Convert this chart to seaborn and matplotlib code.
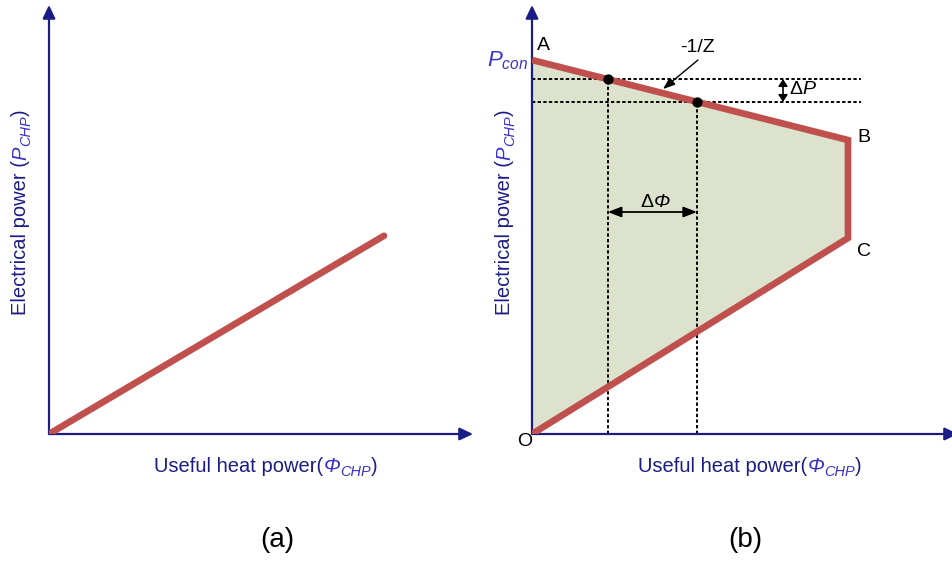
import numpy as np
import pandas as pd
import matplotlib
matplotlib.use("Agg")
import matplotlib.pyplot as plt
import matplotlib.transforms as mtransforms
import seaborn as sns

# ---------------- data ----------------
# panel (a): CHP unit with fixed heat/power ratio
a_heat = [0, 106]
a_power = [0, 53]
# panel (b): feasible operating region O-A-B-C
b_points = ["O", "A", "B", "C"]
b_heat = [0, 0, 100, 100]
b_power = [0, 100, 78.6, 52.4]
# two operating points on the A-B boundary
op_heat = [24, 52.2]
op_power = [94.9, 88.8]
dash_end_x = 104
panel_labels = ["(a)", "(b)"]

# ---------------- style ----------------
sns.set_theme(style="white")
plt.rcParams["font.family"] = ["Liberation Sans", "DejaVu Sans"]
plt.rcParams["mathtext.fontset"] = "custom"
plt.rcParams["mathtext.rm"] = "Liberation Sans"
plt.rcParams["mathtext.it"] = "Liberation Sans:italic"
plt.rcParams["mathtext.bf"] = "Liberation Sans:bold"

NAVY = "#1c1c86"
BLUE = "#3a32cc"
RED = "#c0504d"
FILL = "#dde2cd"
W, H = 952, 561
FS = 14.5

fig = plt.figure(figsize=(W / 100, H / 100), dpi=100)
PX = mtransforms.IdentityTransform()

XS, YS = 3.16, 3.74  # px per data unit


def make_ax(x0, x1, y_bottom, y_top):
    ax = fig.add_axes([x0 / W, (H - y_bottom) / H, (x1 - x0) / W, (y_bottom - y_top) / H])
    ax.set_xlim(0, (x1 - x0) / XS)
    ax.set_ylim(0, (y_bottom - y_top) / YS)
    ax.axis("off")
    ap = dict(arrowstyle="-|>,head_length=0.8,head_width=0.38", color=NAVY, lw=1.6,
              mutation_scale=10, shrinkA=0, shrinkB=0)
    ax.annotate("", xy=(1, 0), xytext=(0, 0), xycoords="axes fraction", arrowprops=ap,
                annotation_clip=False)
    ax.annotate("", xy=(0, 1), xytext=(0, 0), xycoords="axes fraction", arrowprops=ap,
                annotation_clip=False)
    return ax


axa = make_ax(49, 473, 434, 5)
axb = make_ax(532, 958, 434, 5)

# panel (a) line
dfa = pd.DataFrame({"heat": a_heat, "power": a_power})
sns.lineplot(data=dfa, x="heat", y="power", ax=axa, color=RED, lw=4.8,
             estimator=None, errorbar=None, solid_capstyle="round", zorder=3)

# panel (b) region
axb.fill(b_heat, b_power, color=FILL, lw=0, zorder=1)
dfb = pd.DataFrame({"heat": b_heat[1:] + [b_heat[0]], "power": b_power[1:] + [b_power[0]]})
sns.lineplot(data=dfb, x="heat", y="power", ax=axb, color=RED, lw=4.8, sort=False,
             estimator=None, errorbar=None,
             solid_joinstyle="miter", solid_capstyle="butt", zorder=3)
for a in (axa, axb):
    a.set_xlabel("")
    a.set_ylabel("")

dash = dict(color="black", lw=1.4, ls=(0, (1.7, 1.2)), zorder=2)
for hx, py in zip(op_heat, op_power):
    axb.plot([0, dash_end_x], [py, py], **dash)
    axb.plot([hx, hx], [0, py], **dash)
axb.scatter(op_heat, op_power, s=55, color="black", zorder=5, linewidths=0)

# delta arrows
dap = dict(arrowstyle="<|-|>,head_length=0.9,head_width=0.35", color="black", lw=1.3,
           mutation_scale=9, shrinkA=0, shrinkB=0)
yphi = (434 - 212) / YS
axb.annotate("", xy=(op_heat[1], yphi), xytext=(op_heat[0], yphi), arrowprops=dap)
xdp = (783 - 532) / XS
axb.annotate("", xy=(xdp, op_power[1]), xytext=(xdp, op_power[0]),
             arrowprops=dict(arrowstyle="<|-|>,head_length=0.45,head_width=0.3", color="black",
                             lw=1.2, mutation_scale=9, shrinkA=0, shrinkB=0))
# -1/Z pointer
axb.annotate("", xy=((663 - 532) / XS, (434 - 89) / YS), xytext=((698 - 532) / XS, (434 - 60) / YS),
             arrowprops=dict(arrowstyle="-|>,head_length=0.8,head_width=0.3", color="black",
                             lw=1.0, mutation_scale=9, shrinkA=0, shrinkB=0))


def T(x, y, s, **kw):
    return fig.text(x, H - y, s, transform=PX, **kw)


# point labels
lab = dict(fontsize=14, color="black", ha="center", va="center")
T(543, 45, "A", **lab)
T(864, 138, "B", **lab)
T(864, 251, "C", **lab)
T(525, 441, "O", **lab)
T(697, 47, "-1/Z", **lab)
T(803, 90, r"$\Delta\mathit{P}$", **lab)
T(528, 66, r"$\mathit{P}_{\mathit{con}}$", fontsize=FS + 1.5, color=BLUE, ha="right", va="baseline")

# panel labels
T(277, 540, panel_labels[0], fontsize=20, color="black", ha="center", va="center")
T(745, 540, panel_labels[1], fontsize=20, color="black", ha="center", va="center")

# rich labels
renderer = fig.canvas.get_renderer()


def rich(cx, cy, pieces, rot=False):
    """pieces: (text, dy_px, kwargs); cy is the baseline (ref coords) or center for rot."""
    widths = []
    for s, dy, kw in pieces:
        t = fig.text(0, 0, s, transform=PX, **kw)
        widths.append(t.get_window_extent(renderer).width)
        t.remove()
    total = sum(widths)
    pos = (cx - total / 2) if not rot else (H - cy - total / 2)
    for (s, dy, kw), w in zip(pieces, widths):
        if rot:
            fig.text(cx + dy, pos, s, transform=PX, rotation=90, rotation_mode="anchor",
                     ha="left", va="baseline", **kw)
        else:
            fig.text(pos, H - cy - dy, s, transform=PX, ha="left", va="baseline", **kw)
        pos += w


xl = [("Useful heat power(", 0, dict(fontsize=FS, color=NAVY)),
      ("Φ", 0, dict(fontsize=FS, color=BLUE, style="italic")),
      ("CHP", 4, dict(fontsize=FS * 0.72, color=BLUE, style="italic")),
      (")", 0, dict(fontsize=FS, color=NAVY))]
yl = [("Electrical power (", 0, dict(fontsize=FS, color=NAVY)),
      ("P", 0, dict(fontsize=FS, color=BLUE, style="italic")),
      ("CHP", 4, dict(fontsize=FS * 0.72, color=BLUE, style="italic")),
      (")", 0, dict(fontsize=FS, color=NAVY))]
rich(266, 472, xl)
rich(750, 472, xl)
rich(26, 212, yl, rot=True)
rich(510, 212, yl, rot=True)
rich(655, 207, [("Δ", 0, dict(fontsize=14, color="black")),
                ("Φ", 0, dict(fontsize=14, color="black", style="italic"))])

fig.savefig("out.png", dpi=100)
